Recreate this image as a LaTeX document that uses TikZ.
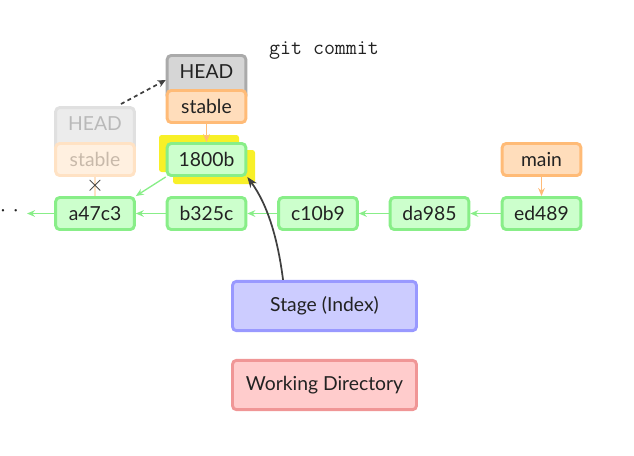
\documentclass[tikz,border=0pt]{standalone}
\usepackage{fontspec}
\setmainfont{Lato}
\usetikzlibrary{arrows.meta}
\definecolor{gfill}{RGB}{204,255,204}
\definecolor{gdraw}{RGB}{136,238,136}
\definecolor{ofill}{RGB}{255,221,187}
\definecolor{odraw}{RGB}{255,187,119}
\definecolor{hfill}{RGB}{214,214,214}
\definecolor{hdraw}{RGB}{170,170,170}
\definecolor{bfill}{RGB}{204,204,255}
\definecolor{bdraw}{RGB}{153,153,255}
\definecolor{rfill}{RGB}{255,204,204}
\definecolor{rdraw}{RGB}{240,150,150}
\definecolor{fhfill}{RGB}{236,236,236}
\definecolor{fhdraw}{RGB}{224,224,224}
\definecolor{fhtext}{RGB}{185,185,185}
\definecolor{fsfill}{RGB}{255,240,224}
\definecolor{fsdraw}{RGB}{255,226,196}
\definecolor{fstext}{RGB}{200,185,170}
\definecolor{hl}{RGB}{248,240,40}
\definecolor{ink}{RGB}{34,34,34}
\begin{document}
\begin{tikzpicture}[x=0.75pt,y=-0.75pt,
  box/.style={draw, rounded corners=3pt, line width=2.2pt, minimum width=59pt, minimum height=24pt, inner sep=0pt, text=ink, font=\fontsize{14.5}{16}\selectfont},
  commit/.style={box, fill=gfill, draw=gdraw},
  branch/.style={box, fill=ofill, draw=odraw},
  tallbox/.style={box, minimum height=0pt, text height=17.2pt, text depth=16pt, anchor=base},
  bigbox/.style={box, minimum width=138pt, minimum height=37pt},
  garrow/.style={draw=gdraw, line width=1pt, -{Stealth[length=6pt,width=5pt]}},
  oarrow/.style={draw=odraw, line width=1pt, -{Stealth[length=6pt,width=5pt]}}
]
\useasboundingbox (0,0) rectangle (634,455);
% yellow highlight
\fill[hl, rounded corners=2pt] (159,135) rectangle (239,172);
\fill[hl, rounded corners=2pt] (173,150) rectangle (255,184);
% commits
\node[commit] (a47c3) at (95,213.5) {a47c3};
\node[commit] (b325c) at (206.5,213.5) {b325c};
\node[commit] (c10b9) at (318,213.5) {c10b9};
\node[commit] (da985) at (429.5,213.5) {da985};
\node[commit] (ed489) at (541.5,213.5) {ed489};
\node[commit] (n1800b) at (206.5,159.5) {1800b};
\node[branch] (main) at (541.5,159.5) {main};
% faded head/stable
\node[tallbox, fill=fhfill, draw=fhdraw, text=fhtext] (oldhead) at (95,130.5) {HEAD};
\node[box, fill=fsfill, draw=fsdraw, text=fstext] (oldstable) at (95,159.5) {stable};
% new head/stable
\node[tallbox, fill=hfill, draw=hdraw] (head) at (206.5,78.4) {HEAD};
\node[branch] (stable) at (206.5,106.5) {stable};
% stage and wd
\node[bigbox, fill=bfill, draw=bdraw] (stage) at (324.5,306) {Stage (Index)};
\node[bigbox, fill=rfill, draw=rdraw] (wd) at (324.5,385) {Working Directory};
% command
\node[font=\ttfamily\fontsize{16}{18}\selectfont, text=ink] (cmd) at (324,51) {git commit};
% dots
\node[font=\fontsize{16}{18}\selectfont, inner sep=0pt, text=ink] (dots) at (9.5,211) {${\cdot}\mkern5mu{\cdot}$};
\coordinate (dotend) at (27,213.5);
% arrows
\draw[garrow] (a47c3) -- (dotend);
\draw[garrow] (b325c) -- (a47c3);
\draw[garrow] (c10b9) -- (b325c);
\draw[garrow] (da985) -- (c10b9);
\draw[garrow] (ed489) -- (da985);
\draw[garrow] (n1800b.south west) -- (a47c3.north east);
\draw[oarrow] (main) -- (ed489);
\draw[oarrow] (stable) -- (n1800b);
\draw[draw=fsdraw, line width=1pt] (oldstable) -- (a47c3);
\node[font=\fontsize{18}{18}\selectfont, text=black!80, inner sep=0pt] (cross) at (95,186) {$\times$};
\draw[black!75, line width=1.3pt, dashed, dash pattern=on 3pt off 2.5pt, -{Stealth[length=6pt,width=5.5pt]}] (121,104) -- (head.west |- 0,80);
\draw[black!75, line width=1.3pt, -{Stealth[length=8pt,width=6pt]}] (stage.north west) ++(52,0) .. controls (278,240) and (268,205) .. (n1800b.south east);
\end{tikzpicture}
\end{document}
